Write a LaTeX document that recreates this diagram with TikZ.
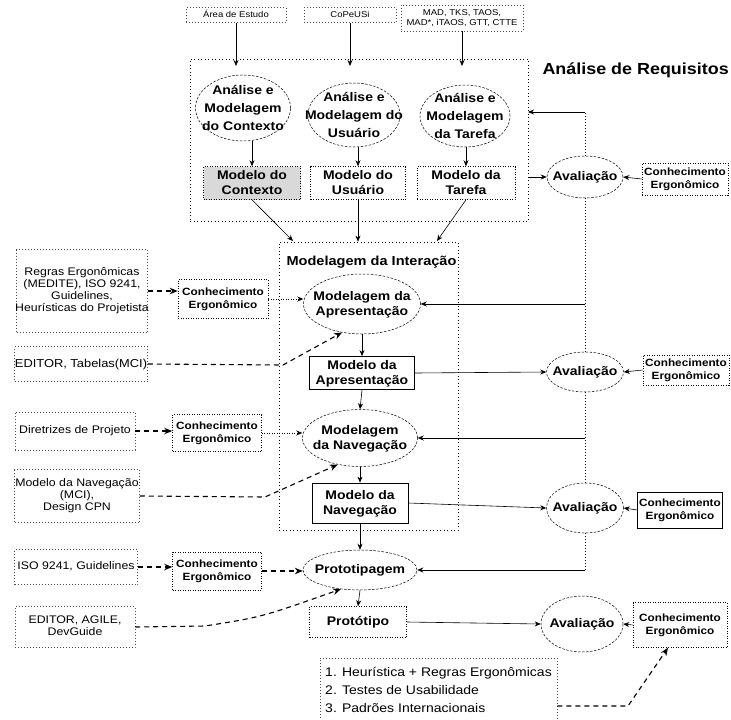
\documentclass[tikz,border=0pt]{standalone}
\usepackage{fontspec}
\setmainfont[FakeStretch=1.12]{Liberation Sans}
\usetikzlibrary{shapes.geometric,arrows.meta}
\newcommand{\zt}[1]{\smash{\makebox[0pt]{\raisebox{-0.3em}{\begin{tabular}{@{}c@{}}#1\end{tabular}}}}}
\newcommand{\zl}[1]{\smash{\makebox[0pt]{\raisebox{-0.3em}{\begin{tabular}{@{}l@{}}#1\end{tabular}}}}}
\newcommand{\dnodefont}{\bfseries\fontsize{12.5}{15}\selectfont}
\newcommand{\dtopfont}{\bfseries\fontsize{12.5}{18}\selectfont}
\newcommand{\dcefont}{\bfseries\fontsize{10.5}{13}\selectfont}
\newcommand{\dleftfont}{\fontsize{11}{12}\selectfont}
\newcommand{\dsrcfont}{\fontsize{8.5}{10}\selectfont}
\newcommand{\dlistfont}{\fontsize{12.5}{18}\selectfont}
\newcommand{\dtitlefont}{\bfseries\fontsize{16}{19}\selectfont}
\begin{document}
\begin{tikzpicture}[x=1pt,y=-1pt,
 ell/.style={ellipse, draw, line width=0.5pt, dash pattern=on 2.5pt off 1.5pt, inner sep=0pt, font=\dnodefont},
 ebox/.style={rectangle, draw, line width=0.6pt, dash pattern=on 1pt off 1.5pt, inner sep=0pt, font=\dnodefont},
 sbox/.style={rectangle, draw, line width=0.8pt, inner sep=0pt, font=\dnodefont},
 cebox/.style={rectangle, draw, line width=0.6pt, dash pattern=on 1pt off 1.5pt, inner sep=0pt, font=\dcefont},
 lbox/.style={rectangle, draw=black!70, line width=0.5pt, dash pattern=on 1pt off 2pt, inner sep=0pt, font=\dleftfont},
 frame/.style={draw, line width=0.6pt, dash pattern=on 1pt off 2.5pt, inner sep=0pt},
 arr/.style={-{Stealth[length=6pt,width=5pt]}, line width=0.6pt},
 darr/.style={-{Stealth[length=8pt,width=6.5pt]}, line width=1.1pt, dash pattern=on 5pt off 4pt},
 dline/.style={line width=0.6pt, dash pattern=on 1pt off 2pt},
 dtarr/.style={-{Stealth[length=6pt,width=5pt]}, line width=0.6pt, dash pattern=on 1pt off 1.5pt}]
\fill[white] (0,0) rectangle (731,720);
\useasboundingbox (0,0) rectangle (731,720);

% top sources
\node[lbox, font=\dsrcfont, minimum width=100pt, minimum height=15pt] (s1) at (236,15) {\zt{Área de Estudo}};
\node[lbox, font=\dsrcfont, minimum width=92pt, minimum height=15pt] (s2) at (350,15) {\zt{CoPeUSi}};
\node[lbox, font=\dsrcfont, minimum width=122pt, minimum height=26pt] (s3) at (462,18) {\zt{MAD, TKS, TAOS,\\MAD*, iTAOS, GTT, CTTE}};

% Analise de Requisitos
\node[frame, minimum width=338pt, minimum height=162pt] (ar) at (359,140) {};
\node[font=\dtitlefont, anchor=west] (art) at (539,70) {Análise de Requisitos};
\node[ell, font=\dtopfont, minimum width=95pt, minimum height=66pt] (e1) at (243,108) {\zt{Análise e\\Modelagem\\do Contexto}};
\node[ell, font=\dtopfont, minimum width=92pt, minimum height=64pt] (e2) at (354,115) {\zt{Análise e\\Modelagem do\\Usuário}};
\node[ell, font=\dtopfont, minimum width=90pt, minimum height=62pt] (e3) at (465,116) {\zt{Análise e\\Modelagem\\da Tarefa}};
\node[ebox, fill=black!15, minimum width=97pt, minimum height=33pt] (b1) at (252,183) {\zt{Modelo do\\Contexto}};
\node[ebox, minimum width=95pt, minimum height=33pt] (b2) at (358,183) {\zt{Modelo do\\Usuário}};
\node[ebox, minimum width=98pt, minimum height=33pt] (b3) at (466,183) {\zt{Modelo da\\Tarefa}};

\coordinate (t1) at (236,66);
\coordinate (t2) at (350,66);
\coordinate (t3) at (462,66);
\draw[arr] (s1.south) -- (t1);
\draw[arr] (s2.south) -- (t2);
\draw[arr] (s3.south) -- (t3);
\draw[arr] (b1.north |- e1.south) -- (b1.north);
\draw[arr] (b2.north |- e2.south) -- (b2.north);
\draw[arr] (b3.north |- e3.south) -- (b3.north);

% Modelagem da Interacao
\node[frame, minimum width=179pt, minimum height=288pt] (ia) at (368.5,386) {};
\node[font=\bfseries\fontsize{13}{15}\selectfont, anchor=west] (iat) at (283,262) {Modelagem da Interação};
\coordinate (c1) at (293,241);
\coordinate (c3) at (437,241);
\draw[arr] (b1.south) -- (c1);
\draw[arr] (b2.south) -- (b2.south |- ia.north);
\draw[arr] (b3.south) -- (c3);

\node[ell, minimum width=117pt, minimum height=60pt] (ap) at (362,304) {\zt{Modelagem da\\Apresentação}};
\node[sbox, minimum width=105pt, minimum height=33pt] (map) at (362,373) {\zt{Modelo da\\Apresentação}};
\node[ell, minimum width=115pt, minimum height=57pt] (nav) at (360,438) {\zt{Modelagem\\da Navegação}};
\node[sbox, minimum width=96pt, minimum height=40pt] (mnav) at (360,503) {\zt{Modelo da\\Navegação}};
\node[ell, minimum width=114pt, minimum height=40pt] (proto) at (360,570) {\zt{Prototipagem}};
\node[ebox, minimum width=97pt, minimum height=31pt] (prot) at (358,622) {\zt{Protótipo}};

\draw[arr] (ap.south) -- (map.north);
\draw[arr] (map.south) -- (nav.north);
\draw[arr] (nav.south) -- (mnav.north);
\draw[arr] (mnav.south) -- (proto.north);
\draw[arr] (proto.south) -- (prot.north);

% right column
\node[ell, minimum width=76pt, minimum height=42pt] (av1) at (585,177) {\zt{Avaliação}};
\node[ell, minimum width=77pt, minimum height=40pt] (av2) at (585,372) {\zt{Avaliação}};
\node[ell, minimum width=77pt, minimum height=50pt] (av3) at (585,508) {\zt{Avaliação}};
\node[ell, minimum width=82pt, minimum height=56pt] (av4) at (582,624) {\zt{Avaliação}};
\node[cebox, minimum width=86pt, minimum height=32pt] (ce1) at (685,179) {\zt{Conhecimento\\Ergonômico}};
\node[cebox, minimum width=86pt, minimum height=30pt] (ce2) at (686,370) {\zt{Conhecimento\\Ergonômico}};
\node[cebox, solid, minimum width=85pt, minimum height=36pt] (ce3) at (680,510) {\zt{Conhecimento\\Ergonômico}};
\node[cebox, minimum width=94pt, minimum height=45pt] (ce4) at (680,625) {\zt{Conhecimento\\Ergonômico}};

\coordinate (f1) at (528,112);
\draw[dline] (av1.north) -- (av1.north |- f1);
\draw[arr] (av1.north |- f1) -- (f1);
\draw[arr] (ar.east |- av1) -- (av1.west);
\draw[arr] (ce1.west) -- (av1.east);
\draw[dline] (av1.south) -- (av1.south |- ap.east);
\draw[dline] (av2.north) -- (av2.north |- ap.east);
\draw[arr] (av2.north |- ap.east) -- (ap.east);
\draw[arr] (map.east) -- (av2.west);
\draw[arr] (ce2.west) -- (av2.east);
\draw[dline] (av2.south) -- (av2.south |- nav.east);
\draw[dline] (av3.north) -- (av3.north |- nav.east);
\draw[arr] (av3.north |- nav.east) -- (nav.east);
\draw[arr] (mnav.east) -- (av3.west);
\draw[arr] (ce3.west) -- (av3.east);
\draw[dline] (av3.south) -- (av3.south |- proto.east);
\draw[arr] (av3.south |- proto.east) -- (proto.east);
\draw[arr] (prot.east) -- (av4.west);
\draw[arr] (ce4.west) -- (av4.east);

% left column
\node[lbox, minimum width=131pt, minimum height=83pt] (lb1) at (82,291) {\zt{Regras Ergonômicas\\(MEDITE), ISO 9241,\\Guidelines,\\Heurísticas do Projetista}};
\node[lbox, font=\fontsize{11.5}{14}\selectfont, minimum width=133pt, minimum height=35pt] (lb2) at (81,364) {\zt{EDITOR, Tabelas(MCI)}};
\node[lbox, minimum width=120pt, minimum height=38pt] (lb3) at (75,431) {\zt{Diretrizes de Projeto}};
\node[lbox, minimum width=125pt, minimum height=53pt] (lb4) at (77,496) {\zt{Modelo da Navegação\\(MCI),\\Design CPN}};
\node[lbox, minimum width=123pt, minimum height=35pt] (lb5) at (76,567) {\zt{ISO 9241, Guidelines}};
\node[lbox, minimum width=120pt, minimum height=41pt] (lb6) at (75,627) {\zt{EDITOR, AGILE,\\DevGuide}};
\node[cebox, minimum width=90pt, minimum height=39pt] (ceL1) at (223,299) {\zt{Conhecimento\\Ergonômico}};
\node[cebox, minimum width=89pt, minimum height=37pt] (ceL2) at (217,433) {\zt{Conhecimento\\Ergonômico}};
\node[cebox, minimum width=89pt, minimum height=38pt] (ceL3) at (217,571) {\zt{Conhecimento\\Ergonômico}};

\draw[darr] (lb1.east) -- (lb1.east -| ceL1.west);
\draw[dtarr] (ceL1.east) -- (ceL1.east -| ap.west);
\coordinate (k1) at (283,365);
\draw[darr] (lb2.east) -- (k1) -- (ap.235);
\draw[darr] (lb3.east) -- (lb3.east -| ceL2.west);
\draw[dtarr] (ceL2.east) -- (ceL2.east -| nav.west);
\coordinate (k2) at (265,497);
\draw[darr] (lb4.east) -- (k2) -- (nav.230);
\draw[darr] (lb5.east) -- (lb5.east -| ceL3.west);
\draw[darr] (ceL3.east) -- (ceL3.east -| proto.west);
\coordinate (k3) at (205,626);
\coordinate (k4) at (262,617);
\draw[darr] (lb6.east) -- (k3) .. controls (k4) .. (proto.225);

% bottom list
\node[lbox, font=\dlistfont, minimum width=237pt, minimum height=64pt] (lst) at (438.5,690) {\zl{1. Heurística + Regras Ergonômicas\\2. Testes de Usabilidade\\3. Padrões Internacionais}};
\coordinate (k5) at (628,706);
\draw[darr] (lst.east |- k5) -- (k5) -- ([xshift=-12pt]ce4.south);
\end{tikzpicture}
\end{document}
